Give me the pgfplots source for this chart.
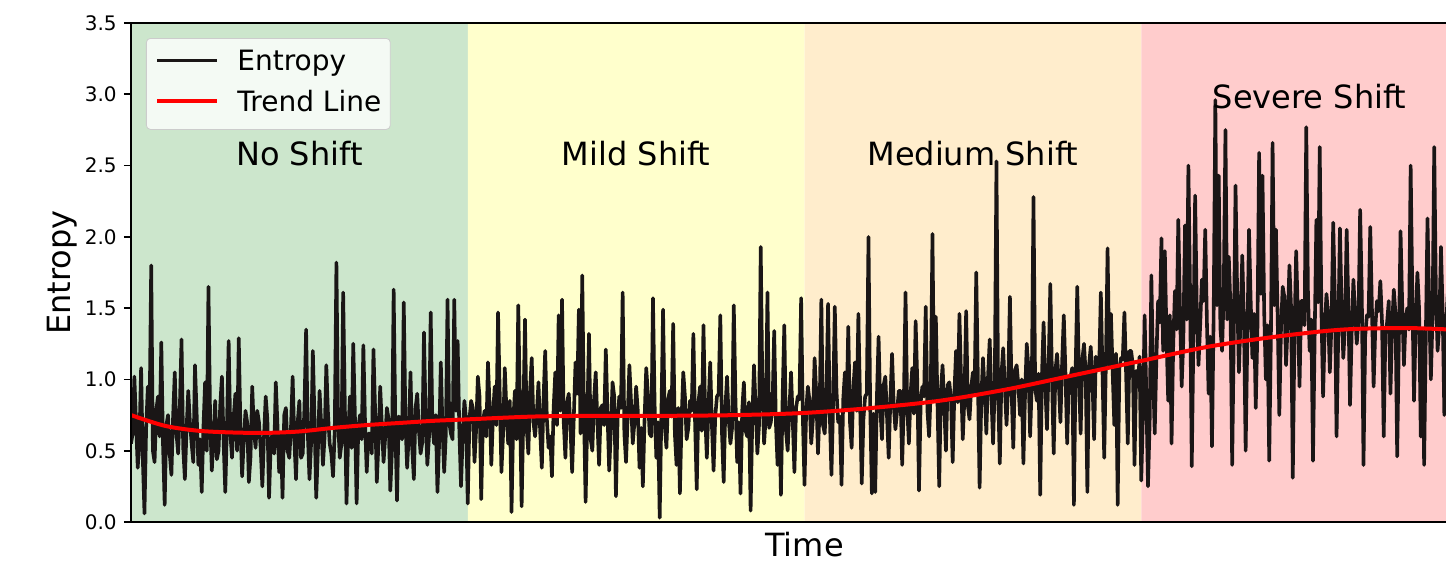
\documentclass[border=0pt]{standalone}
\usepackage{fontspec}
\setmainfont{DejaVu Sans}
\usepackage{pgfplots}
\pgfplotsset{compat=1.18}
\usepackage{pgfplotstable}

\definecolor{gshift}{RGB}{204,230,204}
\definecolor{yshiftc}{RGB}{255,255,204}
\definecolor{oshift}{RGB}{255,237,204}
\definecolor{rshift}{RGB}{255,204,204}
\definecolor{entc}{RGB}{26,22,22}

\pgfplotstableread[row sep=\\]{
v\\
0.55\\0.62\\1.02\\0.70\\0.38\\0.58\\1.08\\0.45\\0.06\\0.66\\0.95\\0.72\\1.80\\0.50\\0.42\\0.78\\0.88\\0.60\\1.26\\0.55\\
0.12\\0.68\\0.75\\0.48\\0.33\\0.74\\1.05\\0.62\\0.48\\0.80\\1.28\\0.52\\0.30\\0.65\\0.92\\0.70\\0.55\\0.42\\1.10\\0.76\\
0.40\\0.58\\0.21\\0.66\\0.98\\0.50\\1.65\\0.72\\0.36\\0.60\\0.85\\0.44\\0.50\\0.82\\1.02\\0.56\\0.21\\0.68\\1.27\\0.62\\
0.45\\0.74\\0.90\\0.50\\1.29\\0.66\\0.32\\0.58\\0.78\\0.70\\0.28\\0.46\\0.95\\0.64\\0.52\\0.78\\0.70\\0.52\\0.25\\0.60\\
0.88\\0.72\\0.17\\0.55\\0.62\\0.48\\0.98\\0.68\\0.35\\0.62\\0.17\\0.75\\0.80\\0.50\\0.45\\0.66\\1.02\\0.58\\0.30\\0.70\\
0.85\\0.45\\0.48\\0.80\\1.35\\0.62\\0.30\\0.56\\1.20\\0.72\\0.17\\0.50\\0.92\\0.68\\0.40\\0.60\\1.10\\0.76\\0.55\\0.48\\
0.32\\0.64\\1.82\\0.70\\0.45\\0.55\\1.61\\0.82\\0.13\\0.60\\0.88\\0.52\\1.25\\0.74\\0.13\\0.66\\0.75\\0.58\\1.24\\0.70\\
0.35\\0.62\\0.62\\0.48\\1.21\\0.78\\0.28\\0.56\\0.95\\0.68\\0.42\\0.60\\0.80\\0.72\\0.22\\0.50\\1.63\\0.66\\0.15\\0.74\\
0.72\\0.58\\1.54\\0.70\\0.38\\0.62\\1.05\\0.52\\0.30\\0.80\\0.90\\0.64\\0.48\\0.56\\1.33\\0.72\\0.40\\0.60\\1.47\\0.68\\
0.55\\0.75\\0.21\\0.55\\1.12\\0.66\\0.35\\0.62\\1.56\\0.70\\0.62\\0.58\\1.56\\0.78\\1.27\\0.64\\0.25\\0.60\\0.85\\0.72\\
0.13\\0.72\\0.85\\0.80\\0.42\\0.65\\1.02\\0.88\\0.16\\0.70\\0.78\\0.60\\1.12\\0.82\\0.40\\0.75\\0.95\\0.68\\1.47\\0.90\\
0.35\\0.62\\1.08\\0.78\\0.55\\0.85\\0.07\\0.70\\0.92\\0.58\\1.52\\0.82\\0.11\\0.74\\1.42\\0.66\\0.48\\0.92\\1.15\\0.70\\
0.60\\0.76\\0.98\\0.64\\0.38\\0.86\\1.20\\0.72\\0.52\\0.60\\0.32\\0.80\\1.05\\0.68\\1.45\\0.78\\1.56\\0.70\\0.45\\0.84\\
0.90\\0.66\\0.35\\0.74\\1.12\\0.90\\1.49\\0.62\\1.73\\0.78\\0.14\\0.72\\1.32\\0.58\\0.50\\0.86\\1.05\\0.70\\0.40\\0.80\\
0.82\\0.68\\1.21\\0.76\\0.36\\0.64\\0.98\\0.88\\0.18\\0.72\\0.88\\0.80\\1.61\\0.62\\0.42\\0.74\\1.10\\0.84\\0.55\\0.70\\
0.95\\0.78\\0.38\\0.66\\0.25\\0.72\\1.08\\0.90\\0.62\\0.60\\1.57\\0.82\\0.45\\0.70\\0.03\\0.76\\1.49\\0.68\\0.52\\0.86\\
0.92\\0.74\\1.39\\0.62\\0.40\\0.80\\0.20\\0.72\\1.05\\0.88\\0.58\\0.66\\0.85\\0.78\\1.32\\0.70\\0.23\\0.84\\0.95\\0.64\\
1.38\\0.76\\0.45\\0.82\\1.12\\0.68\\0.36\\0.74\\0.88\\0.90\\1.45\\0.62\\0.28\\0.80\\1.02\\0.72\\0.55\\0.66\\1.52\\0.86\\
0.42\\0.70\\0.20\\0.78\\0.98\\0.64\\0.60\\0.84\\0.08\\0.72\\1.10\\0.80\\0.48\\0.68\\1.93\\0.92\\0.55\\0.74\\1.61\\0.66\\
0.70\\0.82\\1.34\\0.70\\0.40\\0.76\\0.19\\0.88\\1.38\\0.64\\0.50\\0.78\\1.05\\0.72\\0.35\\0.80\\0.88\\0.86\\1.57\\0.74\\
0.26\\0.78\\0.95\\0.85\\0.55\\0.72\\1.15\\0.90\\0.48\\0.80\\1.56\\0.68\\0.62\\0.88\\1.53\\0.76\\0.33\\0.82\\1.51\\0.92\\
0.70\\0.74\\0.26\\0.86\\1.05\\0.80\\1.37\\0.70\\0.52\\0.94\\1.12\\0.78\\1.46\\0.84\\0.27\\0.72\\0.88\\0.90\\2.00\\0.82\\
0.20\\0.76\\0.21\\0.88\\1.30\\0.80\\0.58\\0.96\\1.02\\0.74\\0.45\\0.86\\1.18\\0.82\\0.65\\0.78\\0.92\\0.92\\0.40\\0.84\\
1.61\\0.80\\0.55\\0.90\\1.08\\0.76\\1.41\\0.98\\0.22\\0.84\\0.95\\0.88\\1.51\\0.78\\0.60\\0.94\\2.02\\0.86\\1.44\\0.82\\
0.25\\0.92\\1.10\\0.80\\0.50\\0.96\\0.98\\0.86\\0.42\\0.90\\1.20\\0.84\\1.46\\1.00\\0.58\\0.88\\1.48\\0.82\\0.72\\0.94\\
1.05\\0.90\\1.75\\0.98\\0.24\\0.86\\1.15\\0.92\\0.62\\1.02\\1.28\\0.88\\0.55\\0.96\\2.53\\0.90\\0.41\\1.04\\1.22\\0.94\\
0.68\\0.98\\1.58\\0.92\\0.52\\1.06\\1.10\\0.96\\0.75\\1.00\\0.41\\0.90\\1.25\\1.08\\0.60\\0.98\\2.28\\0.94\\0.85\\1.04\\
0.19\\1.02\\1.40\\0.96\\0.65\\1.10\\1.67\\1.00\\0.48\\1.06\\1.18\\0.98\\0.70\\1.12\\1.45\\1.04\\0.55\\1.00\\1.02\\1.08\\
0.12\\1.06\\1.65\\1.02\\0.62\\1.14\\1.25\\1.04\\0.21\\1.10\\1.23\\1.00\\0.58\\1.16\\1.08\\1.08\\1.61\\1.04\\0.45\\1.12\\
1.92\\1.10\\1.46\\1.06\\0.68\\1.18\\0.12\\1.08\\1.15\\1.14\\1.47\\1.04\\0.55\\1.20\\1.20\\1.10\\0.40\\1.06\\0.95\\1.16\\
0.29\\0.75\\1.45\\0.90\\0.25\\0.70\\1.73\\1.05\\0.62\\1.15\\1.55\\1.40\\1.99\\1.20\\1.90\\1.30\\0.85\\1.45\\0.55\\1.25\\
1.62\\1.35\\2.12\\1.50\\0.95\\1.28\\2.08\\1.42\\2.50\\1.60\\0.39\\1.32\\2.29\\1.48\\1.10\\1.38\\1.70\\1.55\\2.05\\1.40\\
0.90\\1.30\\0.53\\1.45\\2.96\\1.52\\2.43\\1.36\\1.20\\1.62\\2.75\\1.42\\1.86\\1.50\\0.40\\1.34\\2.36\\1.58\\1.05\\1.44\\
1.87\\1.40\\0.50\\1.28\\2.05\\1.55\\1.15\\1.46\\0.80\\1.35\\2.59\\1.60\\2.43\\1.48\\1.00\\1.38\\0.43\\1.30\\2.66\\1.52\\
2.05\\1.44\\0.75\\1.36\\1.65\\1.58\\1.10\\1.40\\1.80\\1.50\\0.31\\1.32\\1.90\\1.46\\0.95\\1.55\\1.55\\1.38\\2.77\\1.62\\
1.20\\1.42\\0.43\\1.30\\2.12\\1.54\\2.63\\1.48\\0.88\\1.36\\1.60\\1.45\\1.05\\1.40\\2.10\\1.56\\0.60\\1.32\\2.06\\1.50\\
1.15\\1.38\\2.05\\1.52\\0.82\\1.34\\1.70\\1.46\\1.25\\1.42\\2.19\\1.58\\0.40\\1.30\\1.45\\1.44\\2.07\\1.50\\0.95\\1.36\\
1.55\\1.48\\1.69\\1.40\\0.60\\1.32\\1.40\\1.55\\0.90\\1.38\\1.63\\1.46\\0.46\\1.28\\2.04\\1.52\\1.10\\1.42\\1.50\\1.35\\
2.50\\1.58\\0.85\\1.40\\1.75\\1.50\\0.60\\1.34\\0.40\\1.30\\2.13\\1.54\\1.00\\1.44\\2.63\\1.60\\1.20\\1.38\\1.93\\1.48\\
0.75\\1.36\\1.60\\1.45\\0.95\\1.40\\1.85\\1.52\\0.70\\1.30\\1.50\\1.48\\1.10\\1.42\\1.90\\1.55\\0.80\\1.35\\1.45\\1.45\\
}\entropy

\begin{document}
\begin{tikzpicture}
\useasboundingbox (-65.5pt,-21pt) rectangle (657.5pt,261pt);
\clip (-65.5pt,-21pt) rectangle (657.5pt,261pt);
\begin{axis}[
  at={(0pt,0pt)}, anchor=south west,
  scale only axis, width=673.5pt, height=249.5pt,
  xmin=0, xmax=2000, ymin=0, ymax=3.5,
  xtick=\empty,
  ytick={0,0.5,1,1.5,2,2.5,3,3.5},
  ytick pos=left, tick align=outside,
  major tick length=3.5pt,
  every tick/.style={black, line width=0.8pt},
  axis line style={black, line width=0.8pt},
  axis on top=true,
  /pgf/number format/assume math mode=true,
  yticklabel style={font=\fontsize{10}{12}\selectfont, /pgf/number format/fixed, /pgf/number format/fixed zerofill, /pgf/number format/precision=1, inner sep=0pt, xshift=-3.5pt},
  xlabel={Time},
  ylabel={Entropy},
  xlabel style={at={(axis description cs:0.5,0)}, anchor=north, yshift=-5pt, inner sep=0pt, font=\fontsize{16}{19}\selectfont},
  ylabel style={at={(axis description cs:-0.0512,0.5)}, anchor=center, inner sep=0pt, font=\fontsize{16}{19}\selectfont},
  legend style={at={(0,1)}, anchor=north west, xshift=7.5pt, yshift=-7.5pt,
    draw=black!20, rounded corners=2pt, fill=white, fill opacity=0.8, text opacity=1,
    font=\fontsize{14}{16}\selectfont, inner xsep=4.5pt, inner ysep=6pt,
    row sep=7.5pt, column sep=9pt,
    nodes={inner sep=0pt, text height=10.2pt, text depth=2.8pt},
    cells={anchor=base west}},
  legend image code/.code={\draw[#1] (0pt,5.2pt) -- (30pt,5.2pt);},
]
\addplot[fill=gshift, draw=none, forget plot] coordinates {(0,0) (0,3.5) (500,3.5) (500,0)} \closedcycle;
\addplot[fill=yshiftc, draw=none, forget plot] coordinates {(500,0) (500,3.5) (1000,3.5) (1000,0)} \closedcycle;
\addplot[fill=oshift, draw=none, forget plot] coordinates {(1000,0) (1000,3.5) (1500,3.5) (1500,0)} \closedcycle;
\addplot[fill=rshift, draw=none, forget plot] coordinates {(1500,0) (1500,3.5) (2000,3.5) (2000,0)} \closedcycle;

\addplot[entc, line width=1.8pt, line join=round] table[x expr=\coordindex*2.5, y=v] {\entropy};
\addlegendentry{Entropy}

\addplot[red, line width=2pt, smooth] coordinates {
(0,0.75) (50,0.675) (100,0.64) (150,0.628) (200,0.625) (250,0.635) (300,0.66)
(350,0.68) (400,0.695) (450,0.71) (500,0.72) (600,0.74) (700,0.745) (800,0.745)
(900,0.75) (1000,0.765) (1100,0.80) (1200,0.85) (1300,0.93) (1400,1.03)
(1500,1.13) (1600,1.23) (1700,1.30) (1800,1.35) (1900,1.36) (2000,1.34)};
\addlegendentry{Trend Line}

\node[anchor=base, font=\fontsize{16}{19}\selectfont] at (axis cs:250,2.5) {No Shift};
\node[anchor=base, font=\fontsize{16}{19}\selectfont] at (axis cs:750,2.5) {Mild Shift};
\node[anchor=base, font=\fontsize{16}{19}\selectfont] at (axis cs:1250,2.5) {Medium Shift};
\node[anchor=base, font=\fontsize{16}{19}\selectfont] at (axis cs:1750,2.9) {Severe Shift};
\end{axis}
\end{tikzpicture}
\end{document}
